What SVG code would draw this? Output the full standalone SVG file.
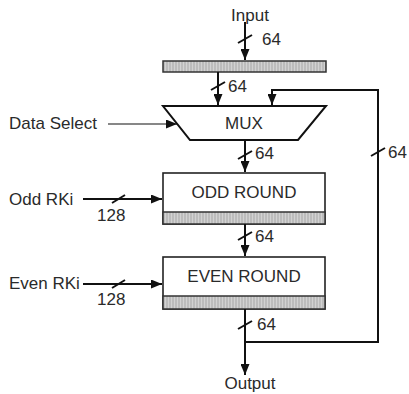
<svg xmlns="http://www.w3.org/2000/svg" width="409" height="394" viewBox="0 0 409 394">
<style>
text{font-family:"Liberation Sans",Arial,sans-serif;font-size:17px;fill:#2a2a2a}
.c{text-anchor:middle}
.w{stroke:#111;stroke-width:2;fill:none}
.t{stroke:#111;stroke-width:1.2;fill:none}
.box{fill:#fff;stroke:#222;stroke-width:1.6}
.reg{fill:url(#stripes);stroke:#333;stroke-width:1.5}
</style>
<defs>
<pattern id="stripes" width="3" height="10" patternUnits="userSpaceOnUse">
<rect width="3" height="10" fill="#bcbcbc"/>
<rect width="1" height="10" fill="#d2d2d2"/>
</pattern>
<marker id="ah" markerWidth="11" markerHeight="9" refX="11" refY="4.5" orient="auto" markerUnits="userSpaceOnUse">
<path d="M0,0 L11,4.5 L0,9 Z" fill="#111"/>
</marker>
</defs>
<g id="input-label"><text class="c" x="250" y="21">Input</text></g>
<g id="input-register"><rect class="reg" x="163" y="61" width="163" height="11"/></g>
<g id="mux">
<path d="M163,106 L326,106 L298,140 L190,140 Z" fill="#fff" stroke="#111" stroke-width="2"/>
<text class="c" x="244" y="129">MUX</text>
</g>
<g id="data-select"><text x="9" y="129">Data Select</text></g>
<g id="odd-round">
<rect class="box" x="163" y="173" width="162" height="51"/>
<rect class="reg" x="163" y="212" width="162" height="12"/>
<text class="c" x="244" y="198">ODD ROUND</text>
</g>
<g id="odd-rki"><text x="9" y="205">Odd RKi</text></g>
<g id="even-round">
<rect class="box" x="163" y="257" width="162" height="52"/>
<rect class="reg" x="163" y="296" width="162" height="13"/>
<text class="c" x="244" y="282">EVEN ROUND</text>
</g>
<g id="even-rki"><text x="9" y="289">Even RKi</text></g>
<g id="output-label"><text class="c" x="250" y="389">Output</text></g>
<g id="connectors">
<line class="w" x1="245" y1="22" x2="245" y2="60" marker-end="url(#ah)"/>
<line class="w" x1="218" y1="72" x2="218" y2="105" marker-end="url(#ah)"/>
<line class="t" x1="108" y1="124" x2="177" y2="124" marker-end="url(#ah)"/>
<line class="w" x1="245" y1="140" x2="245" y2="172" marker-end="url(#ah)"/>
<line class="w" x1="83" y1="199" x2="162" y2="199" marker-end="url(#ah)"/>
<line class="w" x1="245" y1="224" x2="245" y2="256" marker-end="url(#ah)"/>
<line class="w" x1="83" y1="284" x2="162" y2="284" marker-end="url(#ah)"/>
<line class="w" x1="245" y1="309" x2="245" y2="375" marker-end="url(#ah)"/>
<polyline class="w" points="245,342 378,342 378,90 272,90 272,105" marker-end="url(#ah)"/>
<g class="w" stroke-width="1.8">
<path d="M238,43 L252,35"/>
<path d="M211,90 L225,82"/>
<path d="M238,159 L252,151"/>
<path d="M112,203 L125,195"/>
<path d="M238,240 L252,232"/>
<path d="M112,288 L125,280"/>
<path d="M238,329 L252,321"/>
<path d="M371,156 L385,148"/>
</g>
<text x="262" y="45">64</text>
<text x="228" y="92">64</text>
<text x="255" y="159">64</text>
<text x="97" y="221">128</text>
<text x="255" y="242">64</text>
<text x="97" y="305">128</text>
<text x="257" y="330">64</text>
<text x="388" y="158">64</text>
</g>
</svg>
